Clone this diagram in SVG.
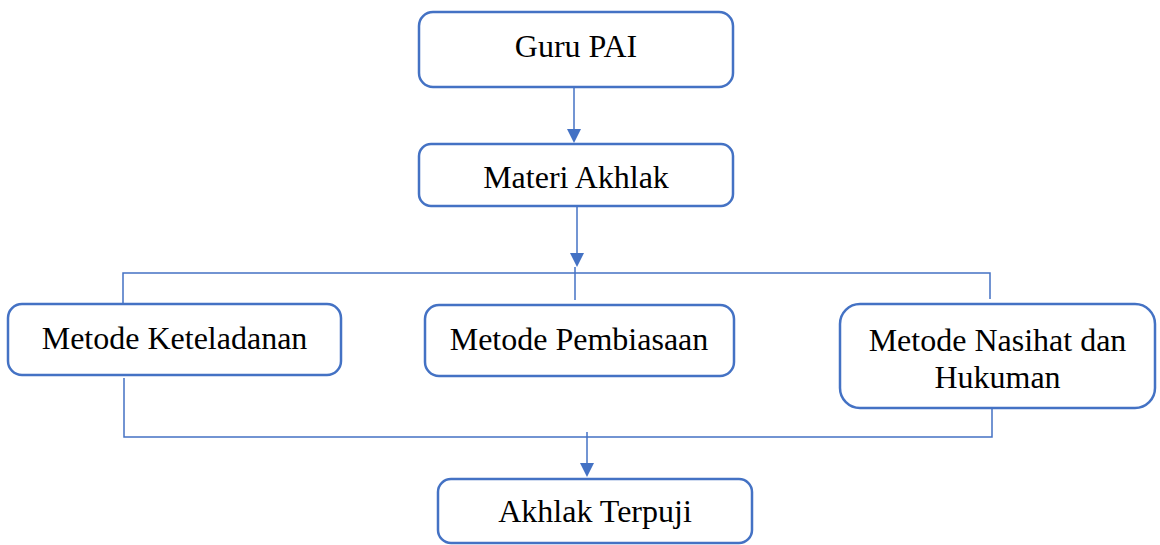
<svg xmlns="http://www.w3.org/2000/svg" width="1160" height="545" viewBox="0 0 1160 545">
<style>
.box{fill:#fff;stroke:#4472C4;stroke-width:2.5}
.lbl{font-family:"Liberation Serif","Times New Roman",serif;font-size:32px;fill:#000;text-anchor:middle}
.con{fill:none;stroke:#4472C4;stroke-width:1.5}
.ah{fill:#4472C4;stroke:none}
</style>
<rect width="1160" height="545" fill="#fff"/>
<g id="connectors">
<line class="con" x1="574" y1="87" x2="574" y2="130"/>
<polygon class="ah" points="567,129 581,129 574,143"/>
<line class="con" x1="577" y1="206" x2="577" y2="254"/>
<polygon class="ah" points="570,253 584,253 577,267"/>
<polyline class="con" points="123,303 123,273 990,273 990,299"/>
<line class="con" x1="575" y1="267" x2="575" y2="300"/>
<polyline class="con" points="124,378 124,437 992,437 992,408"/>
<line class="con" x1="587" y1="432" x2="587" y2="464"/>
<polygon class="ah" points="580,463 594,463 587,477"/>
</g>
<g id="guru"><rect class="box" x="419" y="12" width="314" height="75" rx="14"/><text class="lbl" x="576" y="57">Guru PAI</text></g>
<g id="materi"><rect class="box" x="419" y="144" width="314" height="62" rx="12"/><text class="lbl" x="576" y="188">Materi Akhlak</text></g>
<g id="keteladanan"><rect class="box" x="8" y="304" width="333" height="71" rx="14"/><text class="lbl" x="174.5" y="349">Metode Keteladanan</text></g>
<g id="pembiasaan"><rect class="box" x="425" y="305" width="309" height="71" rx="14"/><text class="lbl" x="579" y="350">Metode Pembiasaan</text></g>
<g id="nasihat"><rect class="box" x="840" y="304" width="315" height="104" rx="20"/><text class="lbl" x="997.5" y="351">Metode Nasihat dan</text><text class="lbl" x="997.5" y="388">Hukuman</text></g>
<g id="terpuji"><rect class="box" x="438" y="479" width="314" height="64" rx="13"/><text class="lbl" x="595" y="522">Akhlak Terpuji</text></g>
</svg>
